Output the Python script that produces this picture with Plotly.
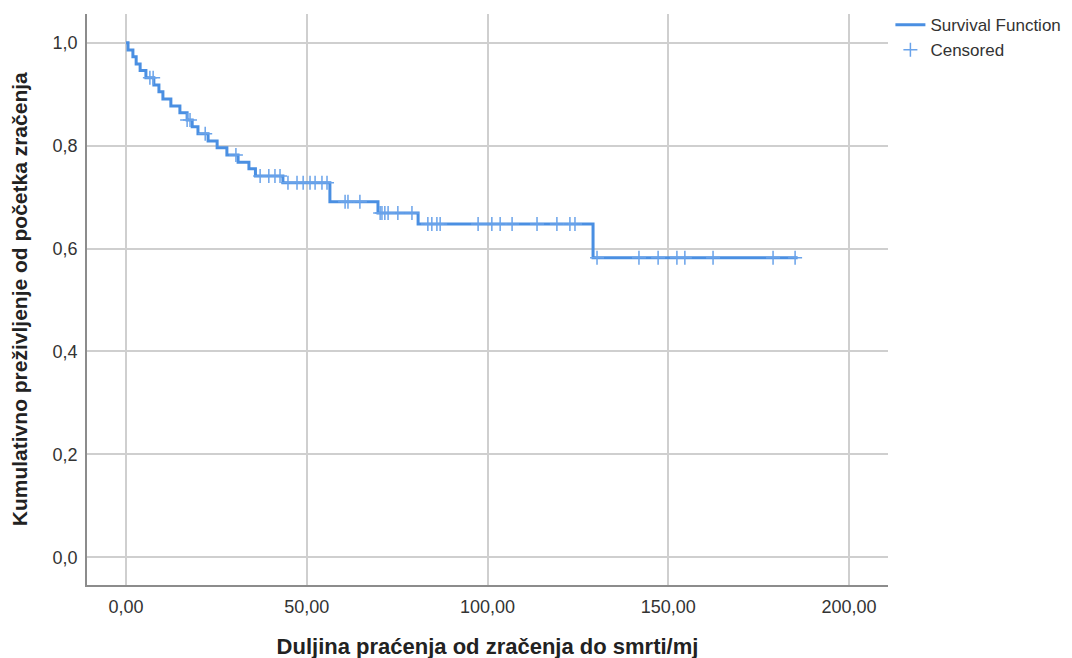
import plotly.graph_objects as go

LINE_BLUE = "#4a8fe2"
CENSOR_BLUE = "#6aa3ea"
GRID = "#cfcfcf"
AXIS = "#8c8c8c"
TEXT = "#222222"
FONT = "Liberation Sans, Arial, sans-serif"

# step times (months) where survival drops, and the level after each drop
event_times = [0.55, 1.9, 2.8, 3.9, 5.5, 7.7, 9.1, 10.2, 12.4, 14.9, 16.9,
               18.3, 19.9, 22.7, 25.2, 27.9, 31.0, 34.0, 35.8, 43.4, 56.4,
               69.7, 80.8, 129.2]
survival = [0.986, 0.973, 0.959, 0.946, 0.932, 0.918, 0.905, 0.891, 0.877,
            0.864, 0.850, 0.837, 0.823, 0.809, 0.796, 0.782, 0.768, 0.755,
            0.741, 0.728, 0.691, 0.669, 0.648, 0.582]
end_time = 185.8

censor_times = [6.6, 7.5, 16.9, 17.7, 21.9, 30.4,
                37.1, 39.5, 41.2, 42.6,
                44.8, 47.3, 49.0, 50.9, 52.3, 54.2, 55.6,
                60.6, 61.4, 64.7,
                70.3, 70.8, 71.6, 72.5, 75.2, 79.1,
                83.5, 84.6, 86.0, 86.9, 97.4, 101.2, 103.5, 106.8, 113.7,
                119.2, 122.8, 124.2,
                130.3, 141.9, 147.2, 152.4, 154.6, 162.4, 179.0, 185.1]


def level_at(t):
    s = 1.0
    for et, sv in zip(event_times, survival):
        if et <= t:
            s = sv
    return s


step_x = [0.0] + event_times + [end_time]
step_y = [1.0] + survival + [survival[-1]]
censor_y = [level_at(t) for t in censor_times]

fig = go.Figure()
fig.add_trace(go.Scatter(
    x=step_x, y=step_y, mode="lines", line_shape="hv",
    line=dict(color=LINE_BLUE, width=3), name="Survival Function",
))
fig.add_trace(go.Scatter(
    x=censor_times, y=censor_y, mode="markers", name="Censored",
    marker=dict(symbol="cross-thin", size=10,
                line=dict(color=CENSOR_BLUE, width=1.5)),
))

axis_common = dict(
    showgrid=True, gridcolor=GRID, gridwidth=1.5,
    showline=True, linecolor=AXIS, linewidth=1.5,
    zeroline=False, ticks="", automargin=False,
    tickfont=dict(family=FONT, size=18, color="#333333"),
)

# the page body adds an 8px offset, so margins are pulled in by 8px
fig.update_layout(
    width=1072, height=658,
    paper_bgcolor="white", plot_bgcolor="white",
    separators=", ",
    margin=dict(l=79, r=192, t=6, b=81, autoexpand=False),
    font=dict(family=FONT, color=TEXT),
    xaxis=dict(
        range=[-10.8, 210.8], tickvals=[0, 50, 100, 150, 200], tickformat=".2f",
        title=dict(text="<b>Duljina praćenja od zračenja do smrti/mj</b>", standoff=22,
                   font=dict(family=FONT, size=22, color=TEXT)),
        ticklabelstandoff=5,
        **axis_common,
    ),
    yaxis=dict(
        range=[-0.054, 1.056], tickvals=[0, 0.2, 0.4, 0.6, 0.8, 1.0], tickformat=".1f",
        ticklabelstandoff=4,
        **axis_common,
    ),
    legend=dict(
        x=1.003, y=1.012, xanchor="left", yanchor="top",
        font=dict(family=FONT, size=17, color="#333333"),
        bgcolor="rgba(0,0,0,0)", tracegroupgap=0, itemwidth=30,
    ),
    showlegend=True,
)

# y-axis title as a rotated annotation so it sits where the reference has it
fig.add_annotation(
    text="<b>Kumulativno preživljenje od početka zračenja</b>",
    xref="paper", yref="paper", x=-0.084, y=0.5,
    xanchor="center", yanchor="middle", textangle=-90, showarrow=False,
    font=dict(family=FONT, size=21, color=TEXT),
)

fig.write_html("out.html")
